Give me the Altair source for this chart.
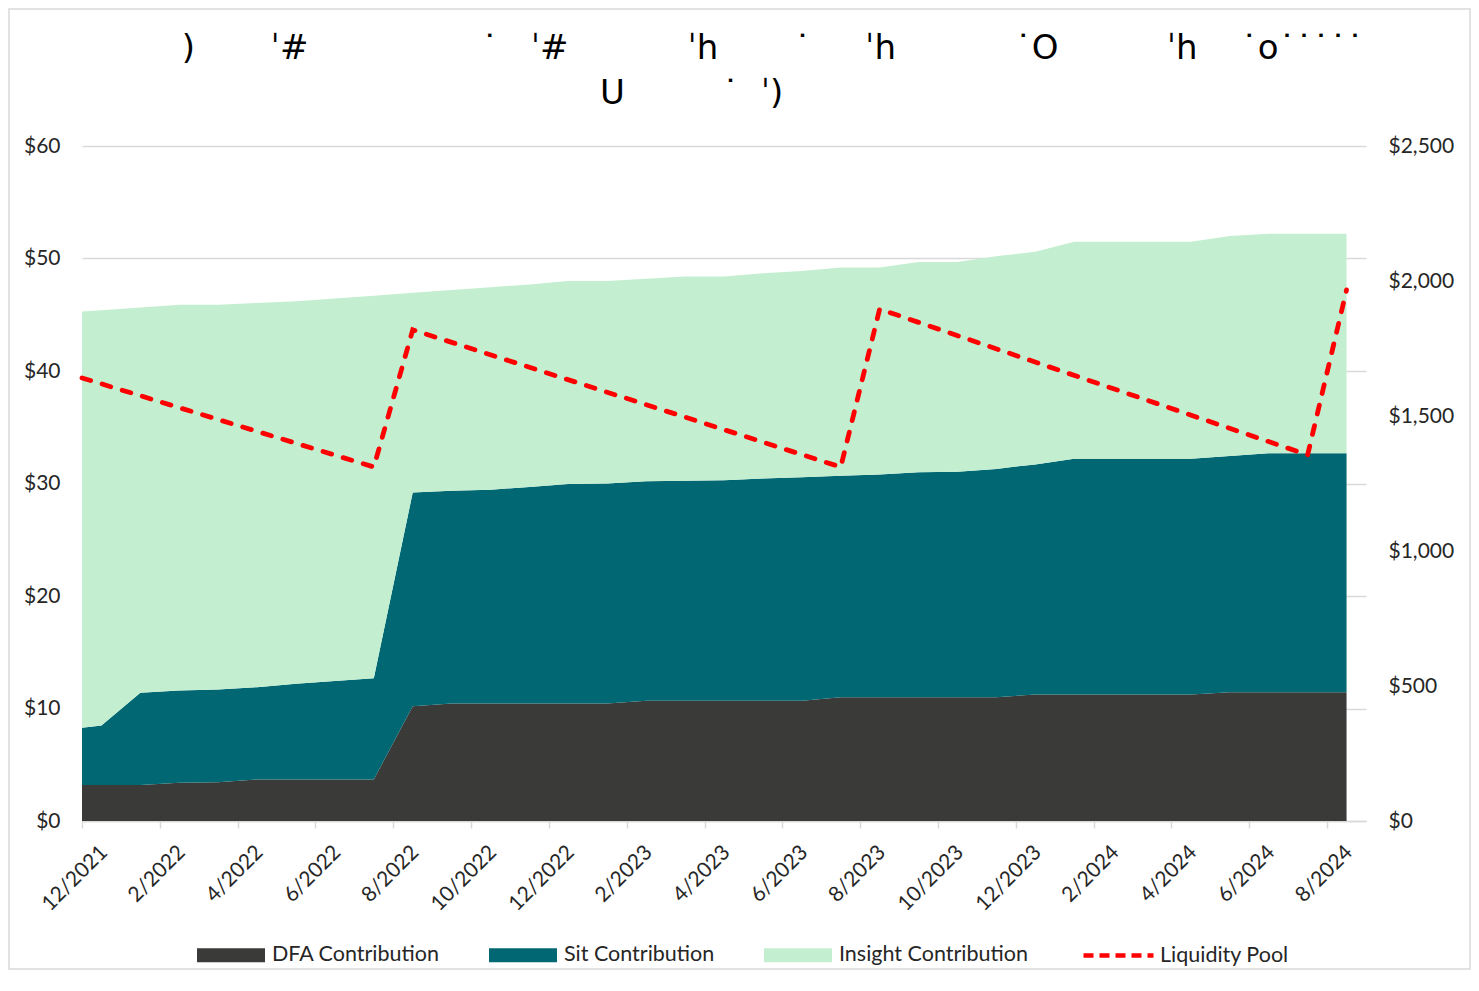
import altair as alt
import pandas as pd

# month position: 0 = start of 12/2021; data at mid-month points
month_pos = [0, 0.5, 1.5, 2.5, 3.5, 4.5, 5.5, 6.5, 7.5, 8.5, 9.5, 10.5, 11.5, 12.5,
             13.5, 14.5, 15.5, 16.5, 17.5, 18.5, 19.5, 20.5, 21.5, 22.5, 23.5, 24.5,
             25.5, 26.5, 27.5, 28.5, 29.5, 30.5, 31.5, 32.5]
dfa = [3.2, 3.2, 3.2, 3.4, 3.45, 3.7, 3.7, 3.7, 3.7, 10.2, 10.45, 10.45, 10.45, 10.45,
       10.45, 10.7, 10.7, 10.7, 10.7, 10.7, 11.0, 11.0, 11.0, 11.0, 11.0, 11.25,
       11.25, 11.25, 11.25, 11.25, 11.45, 11.45, 11.45, 11.45]
sit = [5.1, 5.3, 8.2, 8.2, 8.25, 8.2, 8.5, 8.75, 9.0, 19.0, 18.9, 19.0, 19.25, 19.5,
       19.55, 19.5, 19.55, 19.6, 19.75, 19.85, 19.7, 19.8, 20.0, 20.05, 20.3, 20.45,
       20.95, 20.95, 20.95, 20.95, 21.0, 21.25, 21.25, 21.25]
insight = [37.0, 36.9, 34.25, 34.3, 34.2, 34.15, 34.0, 34.0, 34.0, 17.75, 17.85, 18.0,
           18.0, 18.05, 18.0, 18.0, 18.15, 18.1, 18.25, 18.35, 18.5, 18.4, 18.7, 18.65,
           18.9, 18.9, 19.3, 19.3, 19.3, 19.3, 19.55, 19.5, 19.5, 19.5]

liq_pos = [0, 7.5, 8.5, 19.5, 20.5, 31.5, 32.5]
liq_val = [1641, 1311, 1819, 1311, 1896, 1356, 1967]

series_names = ["DFA Contribution", "Sit Contribution", "Insight Contribution"]
series_colors = ["#3a3a38", "#006773", "#c3efd0"]
line_name = "Liquidity Pool"

tick_labels = ["12/2021", "2/2022", "4/2022", "6/2022", "8/2022", "10/2022", "12/2022",
               "2/2023", "4/2023", "6/2023", "8/2023", "10/2023", "12/2023", "2/2024",
               "4/2024", "6/2024", "8/2024"]

NB = "\u00a0"
ZW = "\u200b"
title_lines = [
    ZW + NB * 9 + ")" + NB * 7 + "ˈ#" + NB * 16 + "˙" + NB * 3 + "ˈ#"
    + NB * 11 + "ˈh" + NB * 7 + "˙" + NB * 5 + "ˈh" + NB * 11
    + "˙O" + NB * 10 + "ˈh" + NB * 4 + "˙o" + "˙˙˙˙˙",
    "U" + NB * 9 + "˙" + NB * 2 + "ˈ)" + NB * 6 + ZW,
]

rows = []
for name, vals, k in zip(series_names, [dfa, sit, insight], range(3)):
    for p, v in zip(month_pos, vals):
        rows.append({"pos": p, "value": v, "series": name, "k": k})
area_df = pd.DataFrame(rows)
line_df = pd.DataFrame({"pos": liq_pos, "value": liq_val, "series": line_name})

FONT = "Lato"
TXT = "#262626"
label_expr = "[" + ",".join("'%s'" % t for t in tick_labels) + "][datum.value / 2]"

x_enc = alt.X(
    "pos:Q",
    scale=alt.Scale(domain=[0, 33], nice=False, zero=False),
    axis=alt.Axis(
        title=None, values=list(range(0, 33, 2)), labelExpr=label_expr,
        labelAngle=315, labelAlign="right", labelBaseline="top", labelFontSize=21,
        labelFont=FONT, labelColor=TXT, labelPadding=13, labelOffset=14,
        domainColor="#d9d9d9", domainWidth=1.5, tickColor="#d9d9d9", tickWidth=1.5,
        tickSize=7, grid=False, labelOverlap=False,
    ),
)

areas = alt.Chart(area_df).mark_area(opacity=1, interpolate="linear").encode(
    x=x_enc,
    y=alt.Y(
        "value:Q", stack="zero",
        scale=alt.Scale(domain=[0, 60], nice=False),
        axis=alt.Axis(
            title=None, values=[0, 10, 20, 30, 40, 50, 60], format="$,.0f",
            labelFontSize=21, labelFont=FONT, labelColor=TXT, labelPadding=22,
            domain=False, ticks=False, grid=True, gridColor="#d9d9d9", gridWidth=1.5,
        ),
    ),
    color=alt.Color(
        "series:N",
        scale=alt.Scale(domain=series_names, range=series_colors),
        legend=alt.Legend(
            title=None, orient="none", legendX=115, legendY=775, direction="horizontal",
            symbolType="M-1,-0.206L1,-0.206L1,0.206L-1,0.206Z", symbolSize=4624,
            symbolStrokeWidth=0, symbolOpacity=1, labelFontSize=21.5, labelFont=FONT,
            labelColor=TXT, labelOffset=7, columnPadding=49, padding=0, labelLimit=500,
        ),
    ),
    order=alt.Order("k:Q", sort="ascending"),
)

line = alt.Chart(line_df).mark_line(
    strokeWidth=4.8, strokeDash=[9, 12], strokeCap="round"
).encode(
    x=x_enc,
    y=alt.Y(
        "value:Q",
        scale=alt.Scale(domain=[0, 2500], nice=False),
        axis=alt.Axis(
            orient="right", title=None, values=[0, 500, 1000, 1500, 2000, 2500],
            format="$,.0f", labelFontSize=21, labelFont=FONT, labelColor=TXT,
            labelPadding=22, domain=False, ticks=False, grid=False,
        ),
    ),
    color=alt.Color(
        "series:N",
        scale=alt.Scale(domain=[line_name], range=["#ff0000"]),
        legend=alt.Legend(
            title=None, orient="none", legendX=999, legendY=772,
            symbolType="stroke", symbolSize=4900, symbolStrokeWidth=4.5,
            symbolDash=[10, 6], labelFontSize=21.5, labelFont=FONT,
            labelColor=TXT, labelOffset=4, padding=0, labelLimit=500,
        ),
    ),
)

frame = alt.Chart(pd.DataFrame({"a": [0]})).mark_rect(
    fill=None, stroke="#d9d9d9", strokeWidth=1.5, clip=False
).encode(
    x=alt.value(-73), x2=alt.value(1388), y=alt.value(-137), y2=alt.value(823)
)

chart = alt.layer(frame, areas, line).resolve_scale(
    y="independent", color="independent"
).properties(
    width=1284, height=675,
    autosize="none",
    padding={"left": 74, "top": 138, "right": 105, "bottom": 150},
    title=alt.TitleParams(
        text=title_lines, fontSize=34, font="DejaVu Sans", fontWeight="normal",
        color="#000000", anchor="middle", frame="group", offset=-103, lineHeight=45,
    ),
).configure_view(stroke=None)

chart.save("out.html", embed_options={"renderer": "svg", "actions": False})
